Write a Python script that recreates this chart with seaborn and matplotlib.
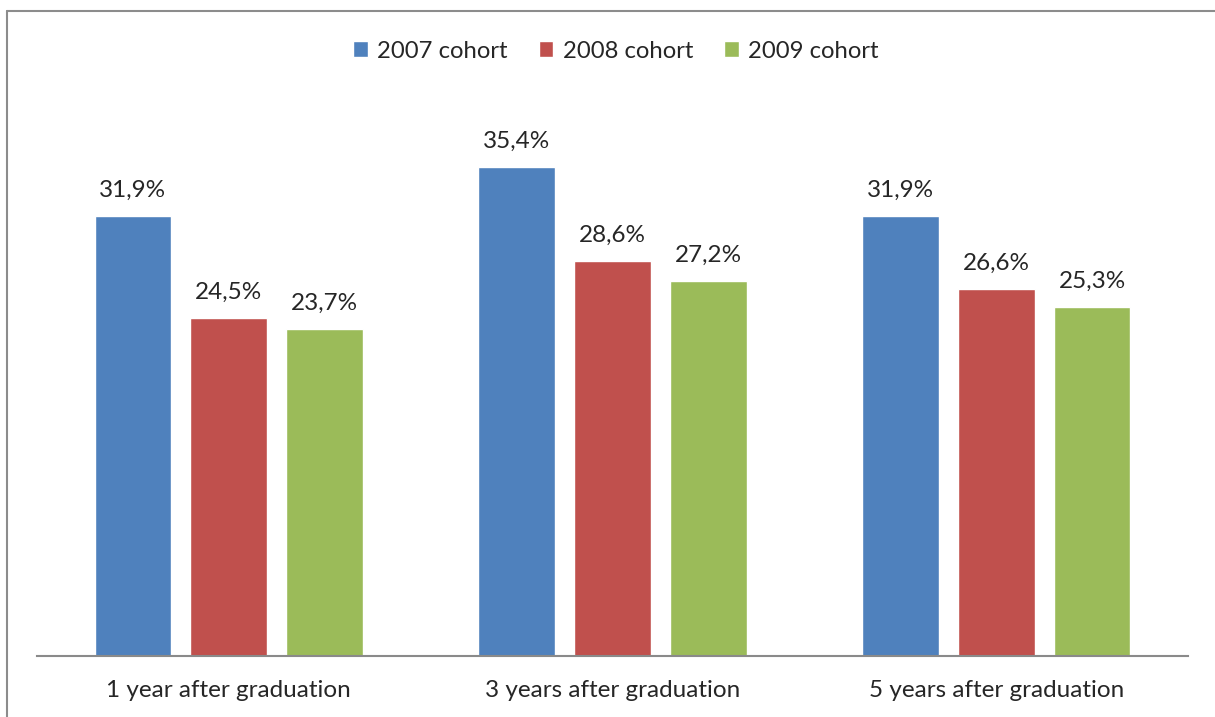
import seaborn as sns
import matplotlib.pyplot as plt
import pandas as pd
from matplotlib.lines import Line2D

# data
periods = ['1 year after graduation', '3 years after graduation', '5 years after graduation']
cohorts = ['2007 cohort', '2008 cohort', '2009 cohort']
c2007 = [31.9, 35.4, 31.9]
c2008 = [24.5, 28.6, 26.6]
c2009 = [23.7, 27.2, 25.3]
colors = ['#4F81BD', '#C0504D', '#9BBB59']

rows = []
for name, vals in zip(cohorts, [c2007, c2008, c2009]):
    for p, v in zip(periods, vals):
        rows.append({'period': p, 'cohort': name, 'value': v})
df = pd.DataFrame(rows)

sns.set_style('white')
plt.rcParams['font.family'] = ['Lato', 'DejaVu Sans']

fig = plt.figure(figsize=(12.15, 7.17), dpi=100)
ax = fig.add_axes([37 / 1215, 1 - 656 / 717, 1151 / 1215, 552 / 717])

sns.barplot(data=df, x='period', y='value', hue='cohort', palette=colors,
            width=0.75, gap=0.2, saturation=1, ax=ax, legend=True)

for cont in ax.containers:
    labels = [f'{b.get_height():.1f}'.replace('.', ',') + '%' for b in cont]
    ax.bar_label(cont, labels=labels, padding=11, fontsize=17.5)

ax.set_ylim(0, 40)
ax.set_xlim(-0.5, 2.5)
ax.set_xlabel('')
ax.set_ylabel('')
ax.set_yticks([])
ax.tick_params(axis='x', length=0, pad=17, labelsize=17.5)
for s in ['top', 'right', 'left']:
    ax.spines[s].set_visible(False)
ax.spines['bottom'].set_color('#8a8a8a')
ax.spines['bottom'].set_linewidth(1.5)

handles, labs = ax.get_legend_handles_labels()
ax.get_legend().remove()
fig.legend(handles, labs, loc='center', bbox_to_anchor=(616 / 1215, 1 - 51 / 717),
           ncol=3, frameon=False, fontsize=17.2, handlelength=0.6, handleheight=0.6,
           handletextpad=0.4, columnspacing=1.3)

# chart border (top and left edges visible)
fig.add_artist(Line2D([7 / 1215, 1], [1 - 11 / 717, 1 - 11 / 717], color='#8c8c8c', lw=1.5,
                      transform=fig.transFigure))
fig.add_artist(Line2D([7 / 1215, 7 / 1215], [0, 1 - 11 / 717], color='#8c8c8c', lw=1.5,
                      transform=fig.transFigure))

fig.savefig('out.png', dpi=100)
